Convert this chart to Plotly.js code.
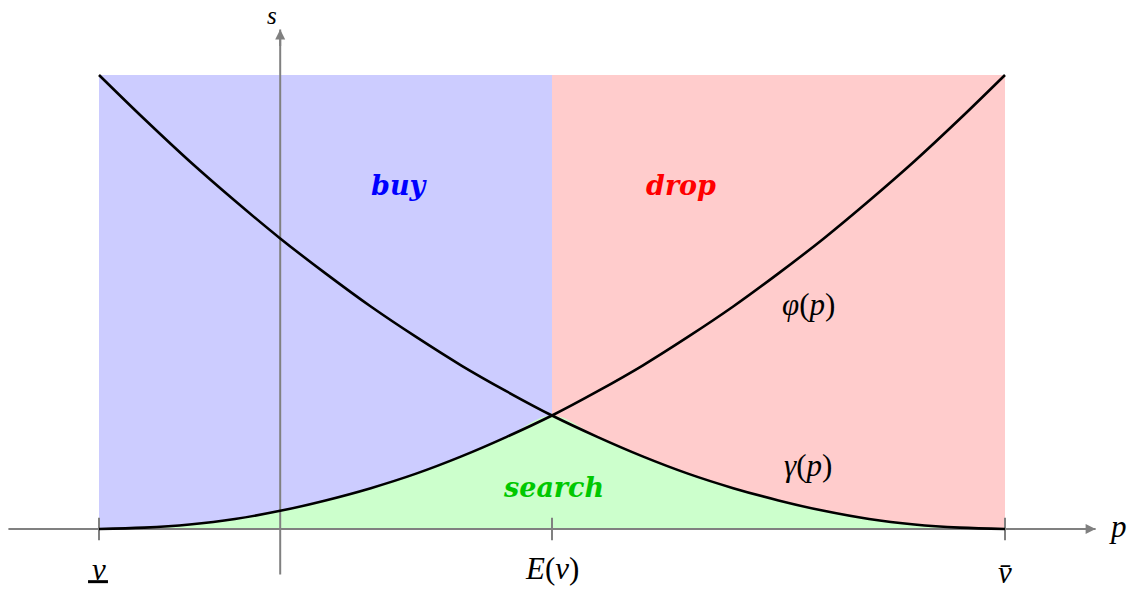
<!DOCTYPE html>
<html>
<head>
<meta charset="utf-8">
<script src="https://cdn.plot.ly/plotly-3.0.1.min.js"></script>
<style>
  html, body { margin: 0; padding: 0; background: #fff; }
  #chart { width: 1133px; height: 590px; }
</style>
</head>
<body>
<div id="chart"></div>
<script>
// price grid and the two curves (s units: 0 at p-axis, 1 at top of box)
var pVals     = [0, 0.05, 0.1, 0.15, 0.2, 0.25, 0.3, 0.35, 0.4, 0.45, 0.5, 0.55, 0.6, 0.65, 0.7, 0.75, 0.8, 0.85, 0.9, 0.95, 1];
var phiVals   = [0, 0.003, 0.01, 0.022, 0.04, 0.063, 0.09, 0.122, 0.16, 0.203, 0.25, 0.303, 0.36, 0.423, 0.49, 0.563, 0.64, 0.723, 0.81, 0.903, 1];
var gammaVals = [1, 0.903, 0.81, 0.723, 0.64, 0.563, 0.49, 0.423, 0.36, 0.303, 0.25, 0.203, 0.16, 0.122, 0.09, 0.063, 0.04, 0.022, 0.01, 0.003, 0];

// region edges on the p axis: v_low, E(v), v_high ; box top in s
var regionEdges = [0, 0.5, 1];
var boxTop = 1;
var tickLabels = ['<i>v</i>', '<i>E</i>(<i>v</i>)', '<i>v\u0304</i>'];

// axis extents
var pAxisSpan = [-0.1, 1.1];
var sAxisSpan = [-0.1, 1.1];
var sAxisAt = 0.2;

var grey = '#808080';

// search region = below both curves
var searchTop = [];
for (var i = 0; i < pVals.length; i++) {
    searchTop.push(Math.min(phiVals[i], gammaVals[i]));
}

var buyBox = {
    x: [regionEdges[0], regionEdges[1], regionEdges[1], regionEdges[0]],
    y: [0, 0, boxTop, boxTop],
    fill: 'toself', fillcolor: 'rgb(204,204,255)',
    mode: 'lines', line: {width: 0}, hoverinfo: 'skip'
};
var dropBox = {
    x: [regionEdges[1], regionEdges[2], regionEdges[2], regionEdges[1]],
    y: [0, 0, boxTop, boxTop],
    fill: 'toself', fillcolor: 'rgb(255,204,204)',
    mode: 'lines', line: {width: 0}, hoverinfo: 'skip'
};
var searchArea = {
    x: pVals, y: searchTop,
    fill: 'tozeroy', fillcolor: 'rgb(204,255,204)',
    mode: 'lines', line: {width: 0, shape: 'spline'}, hoverinfo: 'skip'
};

var pAxisLine = {
    x: pAxisSpan, y: [0, 0], mode: 'lines',
    line: {color: grey, width: 2}, hoverinfo: 'skip'
};
var sAxisLine = {
    x: [sAxisAt, sAxisAt], y: sAxisSpan, mode: 'lines',
    line: {color: grey, width: 2}, hoverinfo: 'skip'
};
var ticks = {
    x: regionEdges, y: [0, 0, 0], mode: 'markers',
    marker: {symbol: 'line-ns', size: 16, line: {color: grey, width: 2}},
    hoverinfo: 'skip'
};

var phiCurve = {
    x: pVals, y: phiVals, mode: 'lines',
    line: {color: 'black', width: 2.6, shape: 'spline'}, hoverinfo: 'skip'
};
var gammaCurve = {
    x: pVals, y: gammaVals, mode: 'lines',
    line: {color: 'black', width: 2.6, shape: 'spline'}, hoverinfo: 'skip'
};

var mathFont = 'Liberation Serif, DejaVu Serif, serif';
var wordFont = 'DejaVu Serif, Liberation Serif, serif';

function label(x, y, text, size, family, color) {
    return {x: x, y: y, xref: 'x', yref: 'y', text: text, showarrow: false,
            xanchor: 'center', yanchor: 'middle',
            font: {family: family, size: size, color: color || 'black'}};
}

var layout = {
    width: 1133,
    height: 590,
    margin: {l: 0, r: 0, t: 0, b: 0},
    showlegend: false,
    plot_bgcolor: 'white',
    paper_bgcolor: 'white',
    xaxis: {range: [-0.10927, 1.14128], visible: false, fixedrange: true},
    yaxis: {range: [-0.13436, 1.16520], visible: false, fixedrange: true},
    shapes: [
        // underline of the lower bound v
        {type: 'line', xref: 'x', yref: 'y', x0: -0.0121, x1: 0.0099, y0: -0.116, y1: -0.116,
         line: {color: 'black', width: 3}}
    ],
    annotations: [
        // arrow heads
        {x: pAxisSpan[1], y: 0, ax: -18, ay: 0, text: '', showarrow: true,
         arrowhead: 2, arrowsize: 1, arrowwidth: 2, arrowcolor: grey},
        {x: sAxisAt, y: sAxisSpan[1], ax: 0, ay: 18, text: '', showarrow: true,
         arrowhead: 2, arrowsize: 1, arrowwidth: 2, arrowcolor: grey},
        label(1.1247, 0.006, '<i>p</i>', 31, mathFont),
        {x: 0.191, y: 1, xref: 'x', yref: 'paper', text: '<i>s</i>', showarrow: false,
         xanchor: 'center', yanchor: 'top', font: {family: mathFont, size: 25, color: 'black'}},
        label(regionEdges[0], -0.089, tickLabels[0], 31, mathFont),
        label(regionEdges[1], -0.086, tickLabels[1], 31, mathFont),
        label(regionEdges[2], -0.096, tickLabels[2], 31, mathFont),
        label(0.3322, 0.7577, '<b><i>buy</i></b>', 27, wordFont, '#0000ff'),
        label(0.6424, 0.7577, '<b><i>drop</i></b>', 27, wordFont, '#ff0000'),
        label(0.5011, 0.0925, '<b><i>search</i></b>', 27, wordFont, '#00c800'),
        label(0.7826, 0.4956, '<i>\u03c6</i>(<i>p</i>)', 31, mathFont),
        label(0.7826, 0.1388, '<i>\u03b3</i>(<i>p</i>)', 31, mathFont)
    ]
};

var config = {staticPlot: true};
var data = [buyBox, dropBox, searchArea, pAxisLine, sAxisLine, ticks, phiCurve, gammaCurve];

Plotly.newPlot('chart', data, layout, config);
</script>
</body>
</html>
